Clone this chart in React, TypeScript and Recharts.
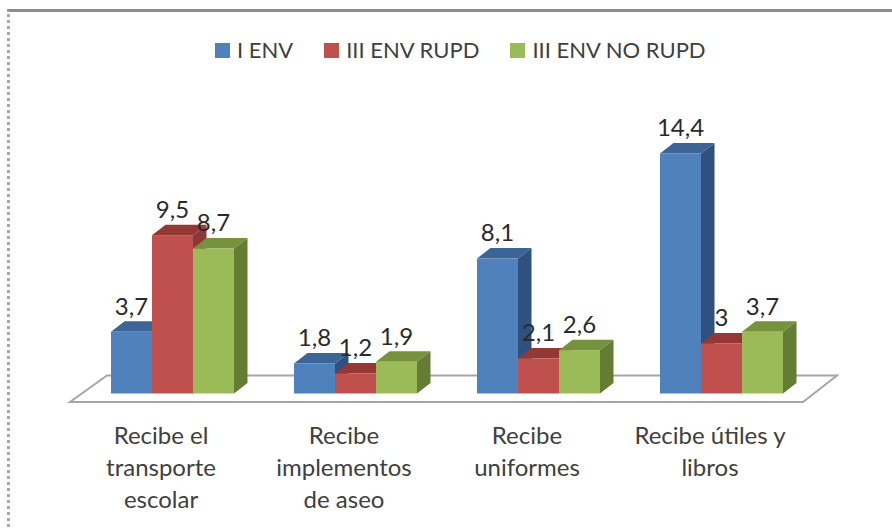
import React from "react";
import { BarChart, Bar, XAxis, YAxis, Legend, LabelList, usePlotArea } from "recharts";

const categories = ["Recibe el transporte escolar", "Recibe implementos de aseo", "Recibe uniformes", "Recibe útiles y libros"];
const tickLines: Record<string, string[]> = {
  "Recibe el transporte escolar": ["Recibe el", "transporte", "escolar"],
  "Recibe implementos de aseo": ["Recibe", "implementos", "de aseo"],
  "Recibe uniformes": ["Recibe", "uniformes"],
  "Recibe útiles y libros": ["Recibe útiles y", "libros"],
};
const env1 = [3.7, 1.8, 8.1, 14.4];
const env3Rupd = [9.5, 1.2, 2.1, 3];
const env3NoRupd = [8.7, 1.9, 2.6, 3.7];
const labels1 = ["3,7", "1,8", "8,1", "14,4"];
const labels2 = ["9,5", "1,2", "2,1", "3"];
const labels3 = ["8,7", "1,9", "2,6", "3,7"];

const rows = categories.map((name, i) => ({
  name,
  a: env1[i],
  b: env3Rupd[i],
  c: env3NoRupd[i],
  la: labels1[i],
  lb: labels2[i],
  lc: labels3[i],
}));

const FONT = "Lato, 'Open Sans', sans-serif";
const DX = 13.5;
const DY = 10.5;

const Bar3D = (colors: { front: string; top: string; side: string }) => (props: any) => {
  const { x, y, width: w, height: h } = props;
  return (
    <g>
      <polygon points={`${x},${y} ${x + DX},${y - DY} ${x + w + DX},${y - DY} ${x + w},${y}`} fill={colors.top} />
      <polygon points={`${x + w},${y} ${x + w + DX},${y - DY} ${x + w + DX},${y + h - DY} ${x + w},${y + h}`} fill={colors.side} />
      <rect x={x} y={y} width={w} height={h} fill={colors.front} />
    </g>
  );
};

const Floor = () => {
  const p = usePlotArea();
  if (!p) return null;
  const bottom = p.y + p.height;
  const pts = [
    [p.x - 10.5, bottom + 8.5],
    [p.x + p.width - 9.5, bottom + 8.5],
    [p.x + p.width + 24.5, bottom - 18],
    [p.x + 26.5, bottom - 18],
  ];
  return <polygon points={pts.map((q) => q.join(",")).join(" ")} fill="#ffffff" stroke="#a6a6a6" strokeWidth={2} />;
};

const Tick = (props: any) => {
  const { x, y, payload } = props;
  const lines = tickLines[payload.value] || [payload.value];
  return (
    <text x={x - 11} textAnchor="middle" fontFamily={FONT} fontSize={24} fill="#404040">
      {lines.map((l, i) => (
        <tspan key={i} x={x - 11} y={y + 42.5 + i * 32}>
          {l}
        </tspan>
      ))}
    </text>
  );
};

const ValueLabel = (props: any) => {
  const { x, y, width: w, value } = props;
  return (
    <text x={x + w / 2} y={y - 17} textAnchor="middle" fontFamily={FONT} fontSize={24} fill="#2a2a2a">
      {value}
    </text>
  );
};

const LegendRow = (props: any) => (
  <div style={{ display: "flex", alignItems: "center", fontFamily: FONT, fontSize: 22, color: "#404040", lineHeight: "26px" }}>
    {(props.payload || []).map((e: any, i: number) => (
      <div key={i} style={{ display: "flex", alignItems: "center", marginRight: 31 }}>
        <span style={{ width: 15, height: 15, background: e.color, marginRight: 7 }} />
        <span>{e.value}</span>
      </div>
    ))}
  </div>
);

export default function App() {
  return (
    <div style={{ position: "absolute", left: 0, top: 0, width: 892, height: 528, background: "#fff", overflow: "hidden" }}>
      <div style={{ position: "absolute", left: 7, top: 9, width: 900, height: 530, borderTop: "3px solid #8c8c8c", borderLeft: "3px dotted #a8a8a8", boxSizing: "border-box" }} />
      <BarChart
        width={892}
        height={528}
        data={rows}
        margin={{ top: 100.8, right: 79.5, bottom: 0, left: 80.5 }}
        barCategoryGap={30.5}
        barGap={0}
        style={{ position: "absolute", left: 0, top: 0 }}
      >
        <Floor />
        <XAxis dataKey="name" axisLine={false} tickLine={false} tick={<Tick />} interval={0} height={134.5} />
        <YAxis hide domain={[0, 16]} />
        <Legend
          verticalAlign="top"
          align="left"
          itemSorter="dataKey"
          content={<LegendRow />}
          wrapperStyle={{ top: 37, left: 215, width: 640 }}
        />
        <Bar dataKey="a" name="I ENV" fill="#4f81bd" isAnimationActive={false} shape={Bar3D({ front: "#4f81bd", top: "#3a6596", side: "#2f5180" })}>
          <LabelList dataKey="la" content={<ValueLabel />} />
        </Bar>
        <Bar dataKey="b" name="III ENV RUPD" fill="#c0504d" isAnimationActive={false} shape={Bar3D({ front: "#c0504d", top: "#953735", side: "#8c3836" })}>
          <LabelList dataKey="lb" content={<ValueLabel />} />
        </Bar>
        <Bar dataKey="c" name="III ENV NO RUPD" fill="#9bbb59" isAnimationActive={false} shape={Bar3D({ front: "#9bbb59", top: "#76923c", side: "#647d34" })}>
          <LabelList dataKey="lc" content={<ValueLabel />} />
        </Bar>
      </BarChart>
    </div>
  );
}
